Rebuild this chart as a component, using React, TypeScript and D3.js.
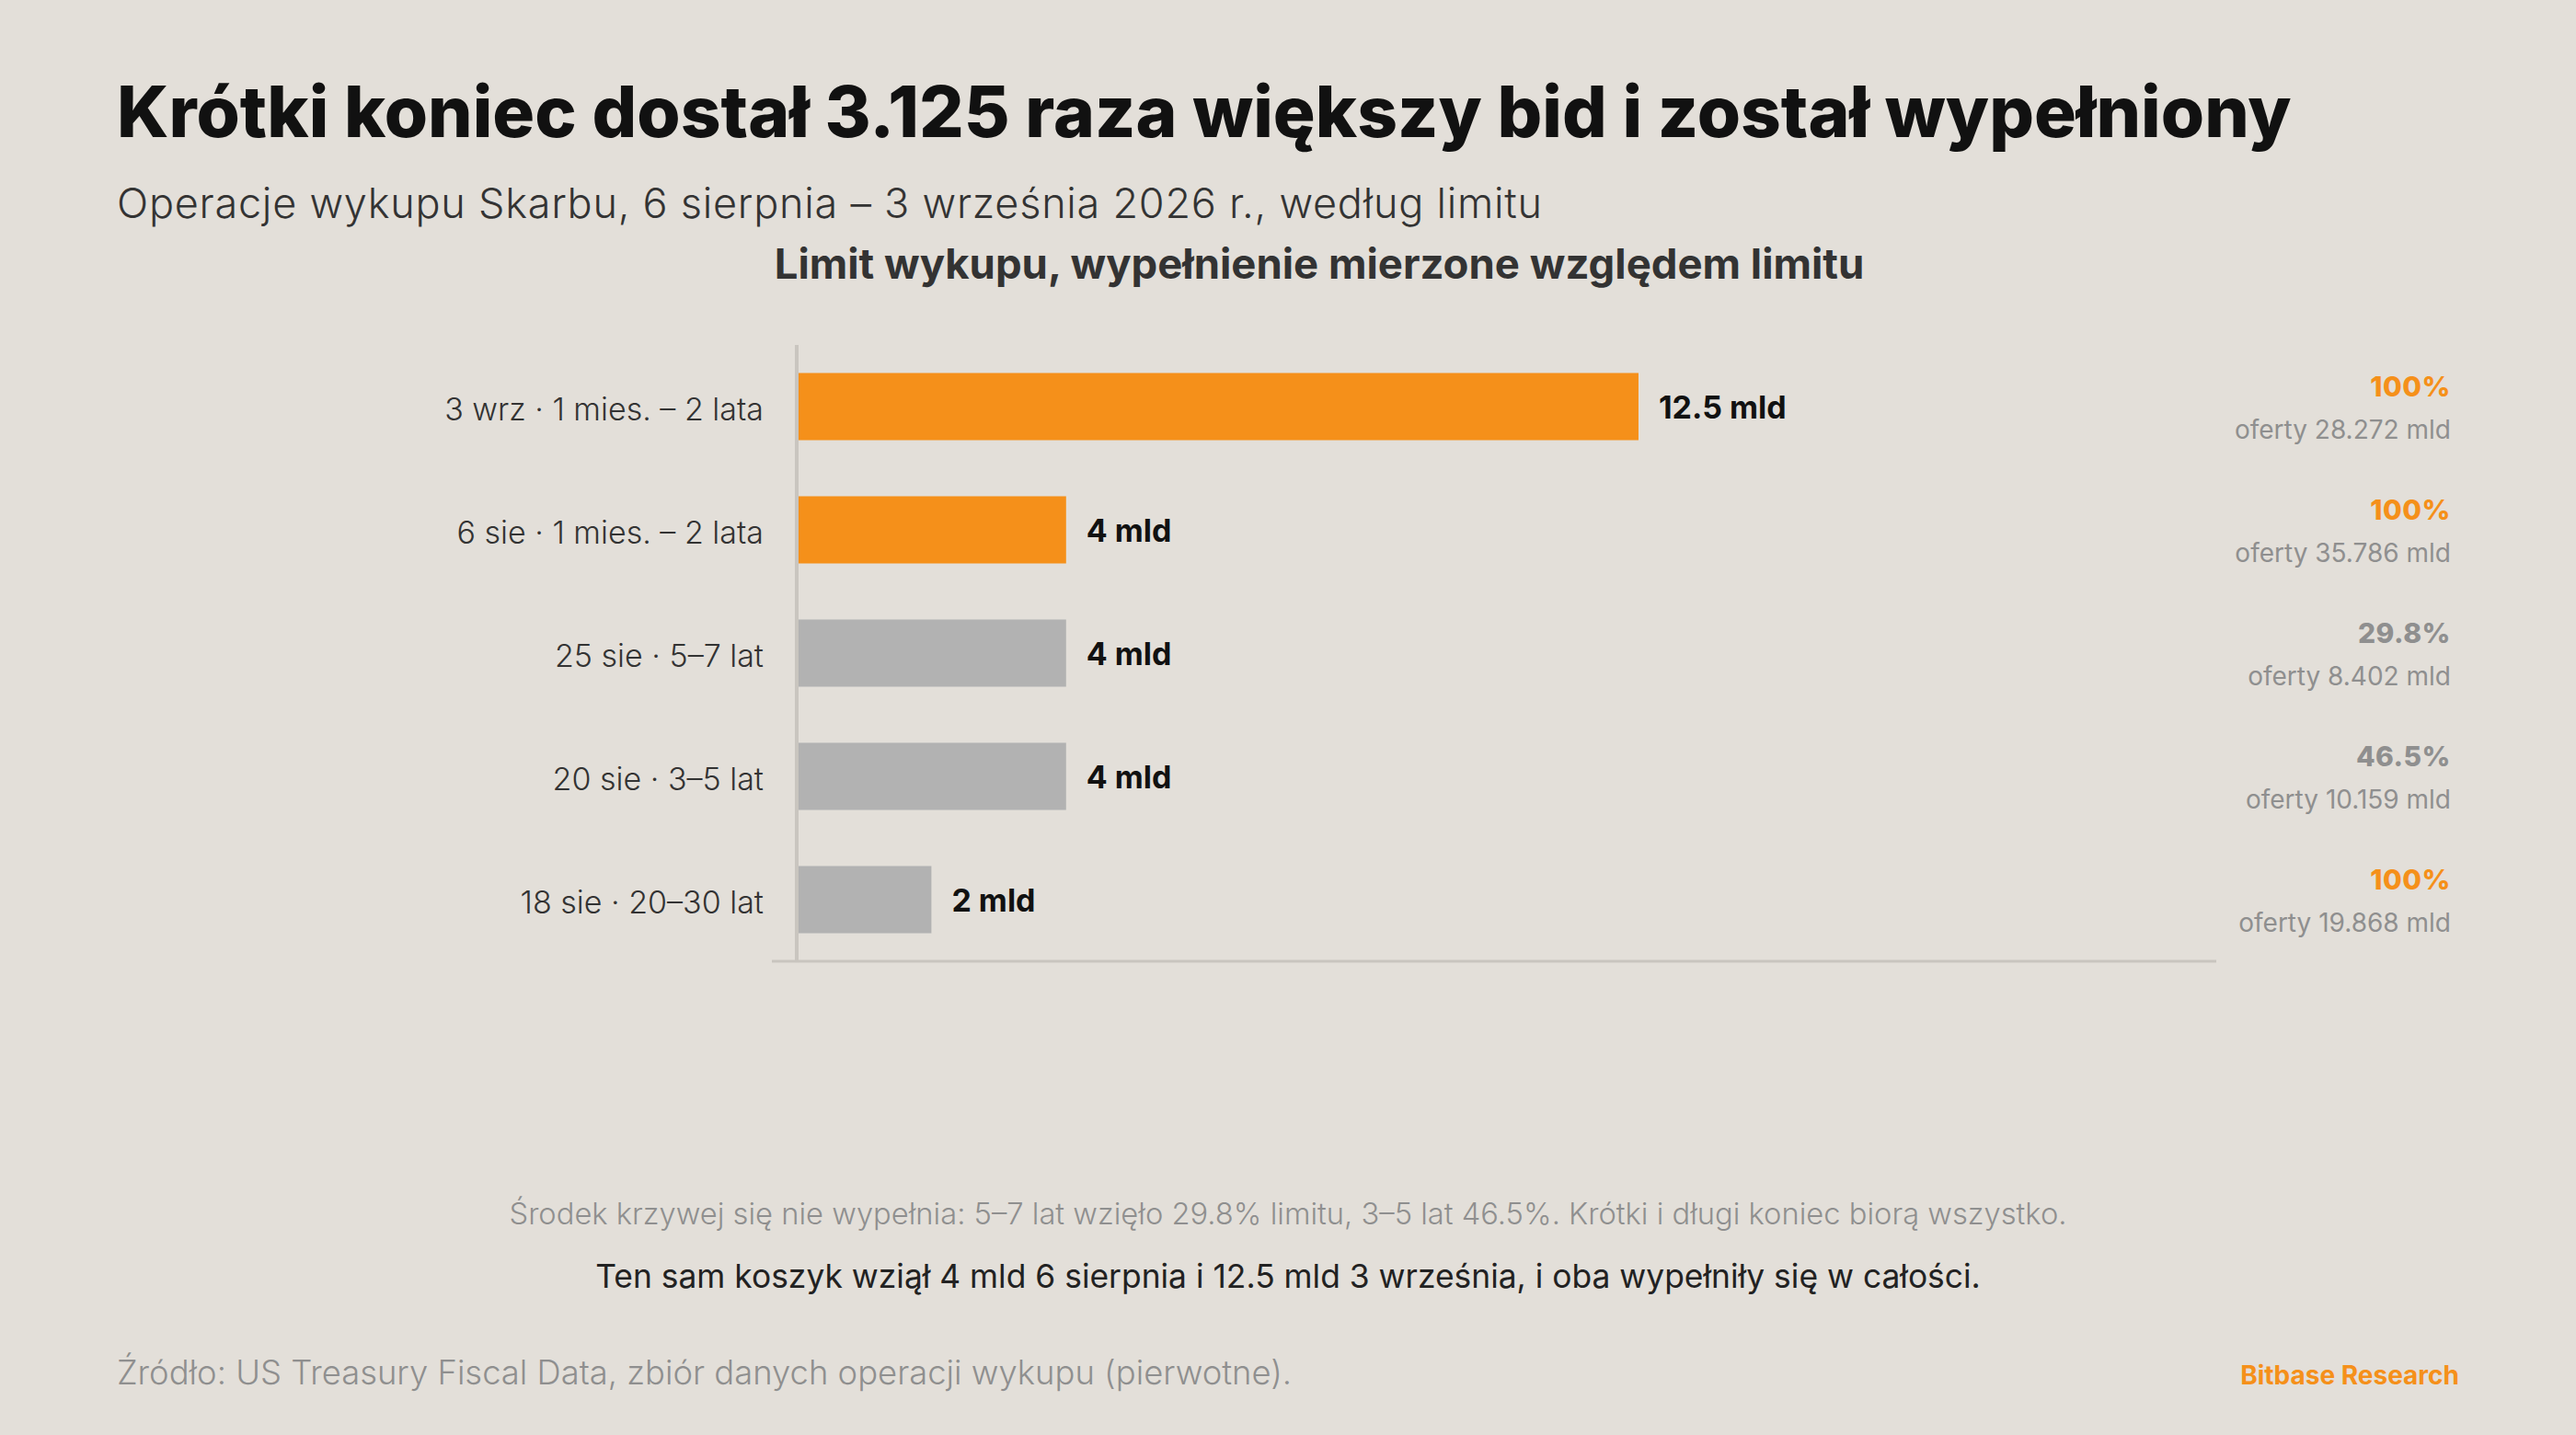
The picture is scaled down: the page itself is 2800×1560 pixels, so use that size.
import React from "react";
import * as d3 from "d3";

const categories = [
  "3 wrz · 1 mies. – 2 lata",
  "6 sie · 1 mies. – 2 lata",
  "25 sie · 5–7 lat",
  "20 sie · 3–5 lat",
  "18 sie · 20–30 lat",
];
const limits = [12.5, 4, 4, 4, 2];
const valueLabels = ["12.5 mld", "4 mld", "4 mld", "4 mld", "2 mld"];
const fillPct = [100, 100, 29.8, 46.5, 100];
const fillLabels = ["100%", "100%", "29.8%", "46.5%", "100%"];
const offers = ["28.272", "35.786", "8.402", "10.159", "19.868"];
const highlighted = [true, true, false, false, false];

const W = 2800;
const H = 1560;
const BG = "#e3dfd9";
const ORANGE = "#f5901a";
const GRAY_BAR = "#b2b2b2";
const GRAY_TXT = "#8f8f8f";
const FONT = "Inter, 'Open Sans', sans-serif";

export default function App() {
  const x = d3.scaleLinear().domain([0, 21.08]).range([866, 2409]);
  const y = d3
    .scaleBand<string>()
    .domain(categories)
    .range([375, 1045])
    .paddingInner(0.455)
    .paddingOuter(0.2275);

  return (
    <svg width={W} height={H} style={{ display: "block", position: "absolute", left: 0, top: 0 }}>
      <rect x={0} y={0} width={W} height={H} fill={BG} />
      <text x={127} y={149} fontFamily={FONT} fontWeight={800} fontSize={76.5} fill="#111">
        Krótki koniec dostał 3.125 raza większy bid i został wypełniony
      </text>
      <text x={127} y={237} fontFamily={FONT} fontWeight={300} fontSize={45} letterSpacing={0.75} fill="#333">
        Operacje wykupu Skarbu, 6 sierpnia – 3 września 2026 r., według limitu
      </text>
      <text x={1434} y={303} textAnchor="middle" fontFamily={FONT} fontWeight={700} fontSize={45.5} fill="#333">
        Limit wykupu, wypełnienie mierzone względem limitu
      </text>

      {/* axes */}
      <line x1={866} x2={866} y1={375} y2={1045} stroke="#c9c5bf" strokeWidth={4} />
      <line x1={839} x2={2409} y1={1045} y2={1045} stroke="#c9c5bf" strokeWidth={3} />

      {categories.map((c, i) => {
        const yy = y(c)!;
        const bw = y.bandwidth();
        const cy = yy + bw / 2;
        return (
          <g key={c}>
            <rect
              x={x(0) + 2}
              y={yy}
              width={x(limits[i]) - x(0) - 2}
              height={bw}
              fill={highlighted[i] ? ORANGE : GRAY_BAR}
            />
            <text x={830} y={cy} dy="0.45em" textAnchor="end" fontFamily={FONT} fontWeight={300} fontSize={34} fill="#333">
              {c}
            </text>
            <text x={x(limits[i]) + 22} y={cy} dy="0.37em" fontFamily={FONT} fontWeight={700} fontSize={34} fill="#111">
              {valueLabels[i]}
            </text>
            <text x={2664} y={cy - 11} textAnchor="end" fontFamily={FONT} fontWeight={800} fontSize={30} letterSpacing={0.5} fill={fillPct[i] >= 100 ? ORANGE : GRAY_TXT}>
              {fillLabels[i]}
            </text>
            <text x={2664} y={cy + 35} textAnchor="end" fontFamily={FONT} fontWeight={400} fontSize={28} fill={GRAY_TXT}>
              {`oferty ${offers[i]} mld`}
            </text>
          </g>
        );
      })}

      <text x={1400} y={1331} textAnchor="middle" fontFamily={FONT} fontWeight={300} fontSize={32.7} fill={GRAY_TXT}>
        Środek krzywej się nie wypełnia: 5–7 lat wzięło 29.8% limitu, 3–5 lat 46.5%. Krótki i długi koniec biorą wszystko.
      </text>
      <text x={1400} y={1400} textAnchor="middle" fontFamily={FONT} fontWeight={400} fontSize={35.4} fill="#222">
        Ten sam koszyk wziął 4 mld 6 sierpnia i 12.5 mld 3 września, i oba wypełniły się w całości.
      </text>
      <text x={127} y={1505} fontFamily={FONT} fontWeight={300} fontSize={36.4} fill={GRAY_TXT}>
        Źródło: US Treasury Fiscal Data, zbiór danych operacji wykupu (pierwotne).
      </text>
      <text x={2673} y={1505} textAnchor="end" fontFamily={FONT} fontWeight={700} fontSize={28} fill={ORANGE}>
        Bitbase Research
      </text>
    </svg>
  );
}
